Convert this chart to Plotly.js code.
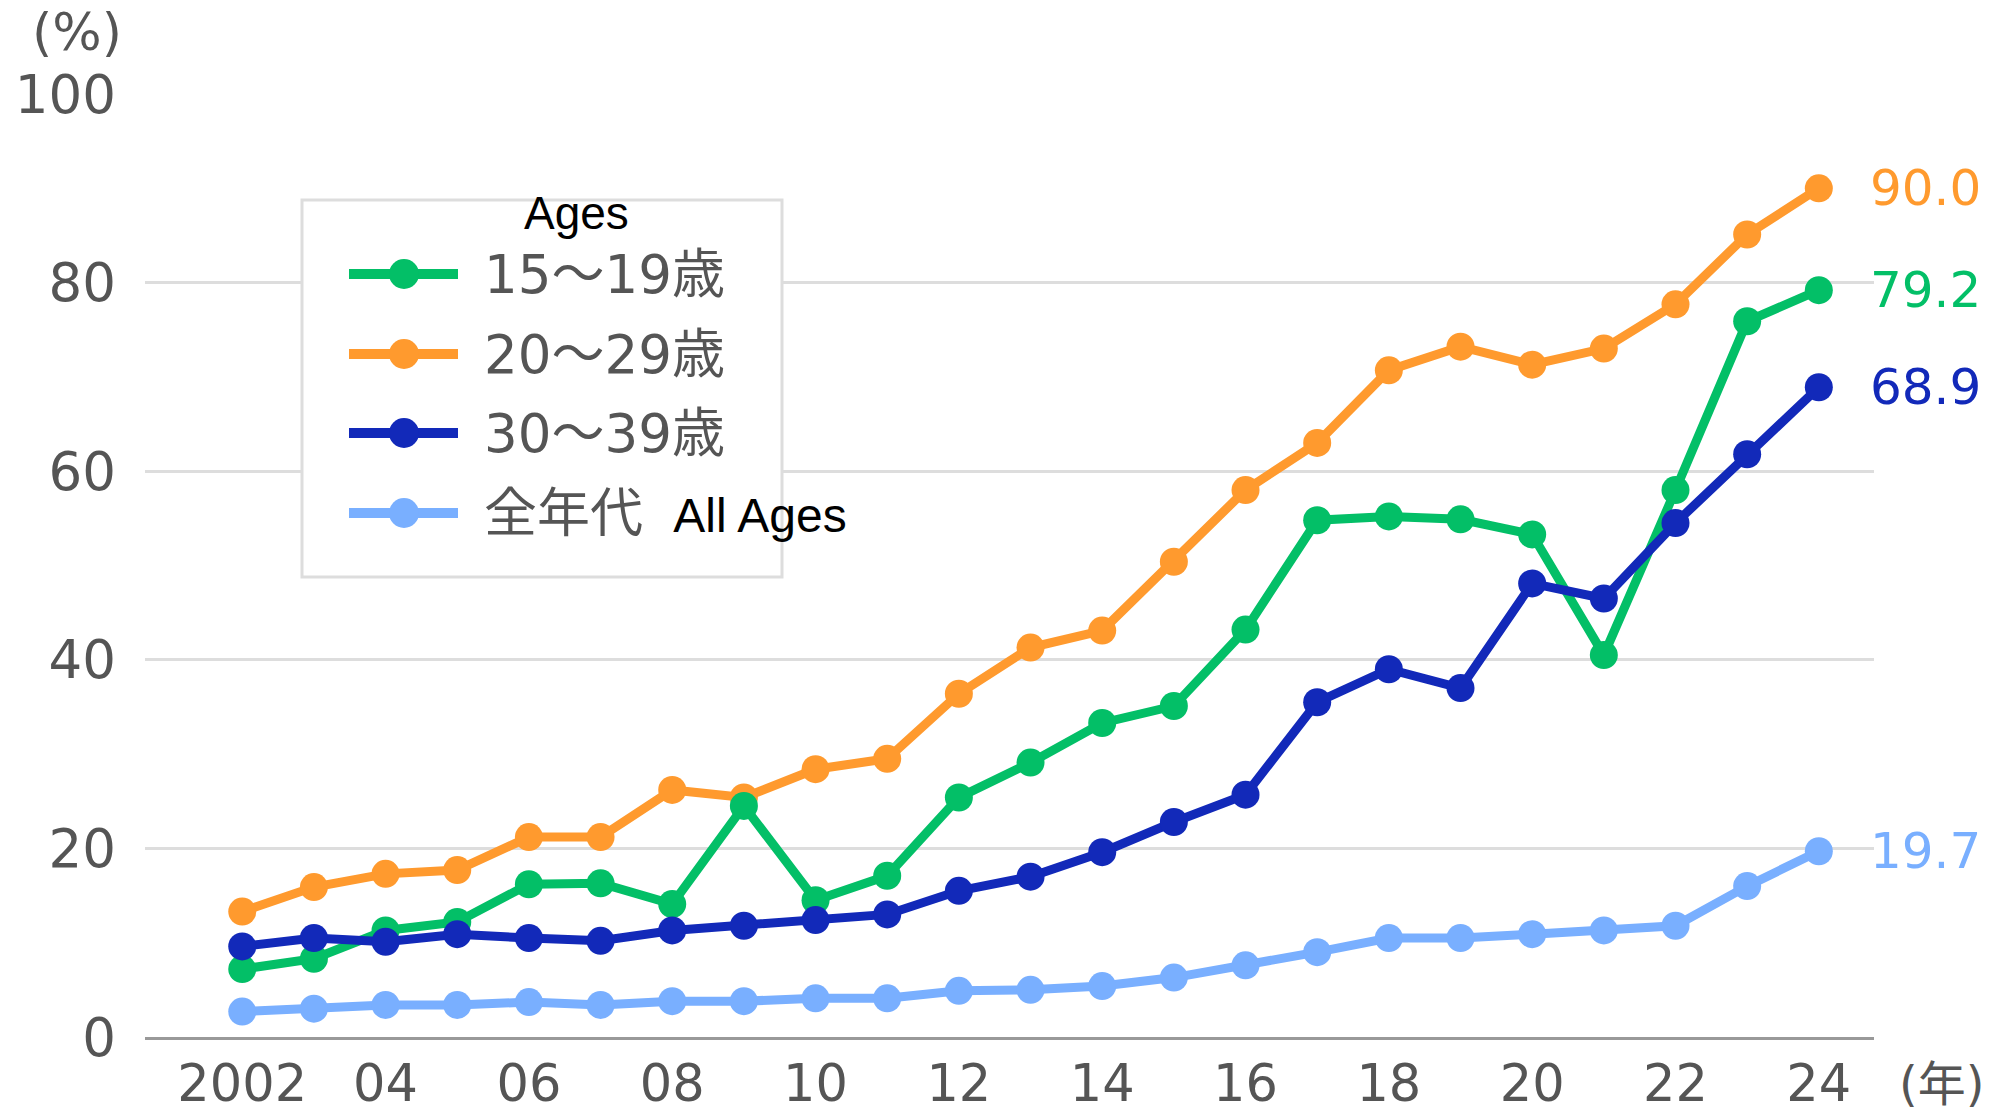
<!DOCTYPE html>
<html>
<head>
<meta charset="utf-8">
<script src="https://cdn.plot.ly/plotly-3.0.1.min.js"></script>
<style>
  html, body { margin: 0; padding: 0; background: #ffffff; }
  #chart { width: 2010px; height: 1113px; }
</style>
</head>
<body>
<div id="chart"></div>
<script>
// ---- data ----
const years = [2002,2003,2004,2005,2006,2007,2008,2009,2010,2011,2012,2013,2014,2015,2016,2017,2018,2019,2020,2021,2022,2023,2024];
const age15to19 = [7.2,8.3,11.3,12.2,16.2,16.3,14.1,24.5,14.5,17.1,25.4,29.1,33.3,35.1,43.2,54.8,55.2,54.9,53.3,40.5,58.0,75.9,79.2];
const age20to29 = [13.3,15.9,17.3,17.7,21.2,21.2,26.2,25.4,28.4,29.5,36.4,41.3,43.1,50.4,58.0,63.0,70.7,73.2,71.3,73.0,77.7,85.1,90.0];
const age30to39 = [9.6,10.5,10.1,10.9,10.5,10.2,11.3,11.8,12.4,13.0,15.5,17.0,19.6,22.8,25.7,35.5,39.0,37.0,48.1,46.5,54.5,61.8,68.9];
const allAges   = [2.7,3.0,3.4,3.4,3.7,3.4,3.8,3.8,4.1,4.1,4.9,5.0,5.4,6.3,7.6,9.0,10.5,10.5,10.9,11.3,11.8,16.0,19.7];

const seriesNames = ['15〜19歳','20〜29歳','30〜39歳','全年代'];
const seriesColors = ['#03BF67','#FF9A2E','#1229B9','#79AFFF'];
const legendSuffix = ['','','','All Ages'];
const legendTitle = 'Ages';

const xTickVals = [2002,2004,2006,2008,2010,2012,2014,2016,2018,2020,2022,2024];
const xTickText = ['2002','04','06','08','10','12','14','16','18','20','22','24'];
const yTickVals = [0,20,40,60,80,100];
const yUnit = '(%)';
const xUnit = '(年)';

// ---- layout geometry (pixels) ----
const W = 2010, H = 1113;
const M = {l: 145, r: 136, t: 94, b: 76};
const plotW = W - M.l - M.r, plotH = H - M.t - M.b;
const px = x => (x - M.l) / plotW;
const py = y => (H - M.b - y) / plotH;

const gray = '#555555';
const numFont = 'DejaVu Sans, Noto Sans CJK JP, sans-serif';

const seriesValues = [age15to19, age20to29, age30to39, allAges];
// drawing order: orange, green, dark blue, light blue
const drawOrder = [1, 0, 2, 3];

const traces = drawOrder.map(i => ({
  type: 'scatter',
  mode: 'lines+markers',
  x: years,
  y: seriesValues[i],
  name: seriesNames[i],
  line: {color: seriesColors[i], width: 9},
  marker: {color: seriesColors[i], size: 28},
  cliponaxis: false,
  showlegend: false,
  hoverinfo: 'x+y'
}));

// ---- custom legend ----
const shapes = [];
const annotations = [];
const box = {x0: 302, x1: 782, y0: 200, y1: 577};
shapes.push({type: 'rect', xref: 'paper', yref: 'paper', layer: 'above',
  x0: px(box.x0), x1: px(box.x1), y0: py(box.y1), y1: py(box.y0),
  fillcolor: '#ffffff', line: {color: '#dddddd', width: 3}});
annotations.push({xref: 'paper', yref: 'paper', x: px(576), y: py(213),
  xanchor: 'center', yanchor: 'middle', showarrow: false, text: legendTitle,
  font: {family: 'Liberation Sans, Arial, sans-serif', size: 46, color: '#000000'}});
const rowY = [274, 354, 433, 513];
seriesNames.forEach((name, i) => {
  const yy = rowY[i];
  shapes.push({type: 'line', xref: 'paper', yref: 'paper', layer: 'above',
    x0: px(349), x1: px(458), y0: py(yy), y1: py(yy),
    line: {color: seriesColors[i], width: 10}});
  shapes.push({type: 'circle', xref: 'paper', yref: 'paper', layer: 'above',
    x0: px(404 - 15), x1: px(404 + 15), y0: py(yy + 15), y1: py(yy - 15),
    fillcolor: seriesColors[i], line: {width: 0}});
  let txt = name;
  if (legendSuffix[i]) {
    txt += ' <span style="font-family:Liberation Sans, Arial, sans-serif;color:#000000;font-size:48px"> ' + legendSuffix[i] + '</span>';
  }
  annotations.push({xref: 'paper', yref: 'paper', x: px(482), y: py(yy),
    xanchor: 'left', yanchor: 'middle', showarrow: false, text: txt,
    font: {family: numFont, size: 53, color: gray}});
});

// ---- end value labels ----
seriesValues.forEach((vals, i) => {
  const v = vals[vals.length - 1];
  annotations.push({xref: 'paper', yref: 'y', x: 1, xshift: -6, y: v,
    xanchor: 'left', yanchor: 'middle', showarrow: false,
    text: v.toFixed(1),
    font: {family: numFont, size: 50, color: seriesColors[i]}});
});

// ---- unit labels ----
annotations.push({xref: 'paper', yref: 'paper', x: px(77), y: py(32),
  xanchor: 'center', yanchor: 'middle', showarrow: false, text: yUnit,
  font: {family: numFont, size: 52, color: gray}});
annotations.push({xref: 'paper', yref: 'paper', x: px(1942), y: py(1084),
  xanchor: 'center', yanchor: 'middle', showarrow: false, text: xUnit,
  font: {family: numFont, size: 48, color: gray}});

const layout = {
  width: W, height: H,
  margin: M,
  paper_bgcolor: '#ffffff',
  plot_bgcolor: '#ffffff',
  showlegend: false,
  xaxis: {
    range: [2000.643, 2024.77],
    tickmode: 'array', tickvals: xTickVals, ticktext: xTickText,
    showgrid: false, zeroline: false,
    showline: true, linecolor: '#999999', linewidth: 3,
    ticks: '', ticklabelstandoff: 0,
    tickfont: {family: numFont, size: 51, color: gray}
  },
  yaxis: {
    range: [0, 100],
    tickmode: 'array', tickvals: yTickVals,
    showgrid: true, gridcolor: '#dddddd', gridwidth: 3,
    zeroline: false, showline: false,
    ticks: '', ticklabelstandoff: 28,
    tickfont: {family: numFont, size: 53, color: gray}
  },
  shapes: shapes,
  annotations: annotations
};

Plotly.newPlot('chart', traces, layout, {displayModeBar: false, staticPlot: true});
</script>
</body>
</html>
